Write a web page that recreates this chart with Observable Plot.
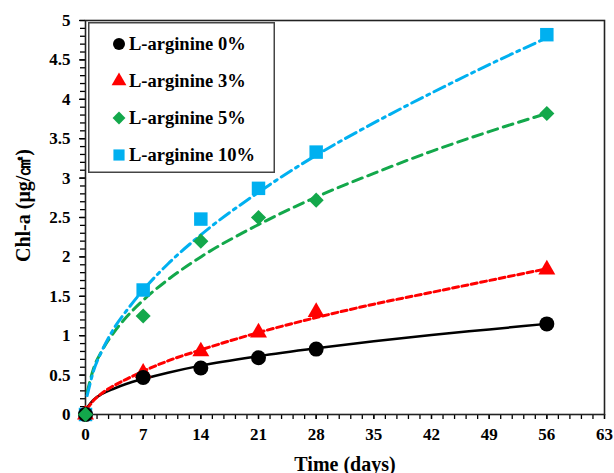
<!DOCTYPE html>
<html>
<head>
<meta charset="utf-8">
<script src="https://cdn.jsdelivr.net/npm/d3@7"></script>
<script src="https://cdn.jsdelivr.net/npm/@observablehq/plot@0.6"></script>
<style>
  html, body { margin: 0; padding: 0; background: #fff; }
  #wrap { position: relative; width: 614px; height: 473px; }
  .chart [aria-label="x-axis label"] text, .chart [aria-label="y-axis label"] text { font-size: 20px; }
  #legend { position: absolute; left: 88px; top: 22px; }
</style>
</head>
<body>
<div id="wrap"></div>
<script>
// ---- data ----
const days = [0, 7, 14, 21, 28, 56];
const seriesNames = ["L-arginine 0%", "L-arginine 3%", "L-arginine 5%", "L-arginine 10%"];
const arg0  = [0, 0.47, 0.59, 0.72, 0.83, 1.15];
const arg3  = [0, 0.53, 0.80, 1.04, 1.30, 1.84];
const arg5  = [0, 1.25, 2.20, 2.50, 2.72, 3.82];
const arg10 = [0, 1.58, 2.48, 2.87, 3.33, 4.82];

// fitted trend curves
const trendDays = [0.2, 1, 2, 3.5, 5, 7, 10, 14, 21, 28, 35, 42, 49, 56];
const trend0  = [0.09, 0.19, 0.26, 0.33, 0.39, 0.45, 0.53, 0.62, 0.74, 0.84, 0.93, 1.01, 1.08, 1.15];
const trend3  = [0.07, 0.18, 0.27, 0.37, 0.45, 0.55, 0.68, 0.82, 1.04, 1.23, 1.40, 1.55, 1.70, 1.85];
const trend5  = [0.28, 0.59, 0.81, 1.05, 1.24, 1.45, 1.71, 2.00, 2.41, 2.76, 3.06, 3.34, 3.59, 3.82];
const trend10 = [0.24, 0.56, 0.81, 1.10, 1.32, 1.58, 1.91, 2.28, 2.82, 3.29, 3.70, 4.08, 4.44, 4.78];

const xTicks = [0, 7, 14, 21, 28, 35, 42, 49, 56, 63];
const yTicks = [0, 0.5, 1, 1.5, 2, 2.5, 3, 3.5, 4, 4.5, 5];
const yTickLabels = ["0", "0.5", "1", "1.5", "2", "2.5", "3", "3.5", "4", "4.5", "5"];
const xMinor = d3.range(0, 46).map(i => +(i * 1.4).toFixed(2));
const yMinor = d3.range(0, 51).map(i => +(i * 0.1).toFixed(2));

// ---- styles ----
const colors  = ["#000000", "#ff0000", "#13a84b", "#00b0f0"];
const symbols = ["circle", "triangle", "diamond2", "square"];
const radii   = [7.5, 6.3, 6.8, 7.6];
const dashes  = [null, "6,3.5", "10,6", "12,5,3,5"];
const widths  = [2.5, 3, 3, 3];

const values = [arg0, arg3, arg5, arg10];
const trends = [trend0, trend3, trend5, trend10];

const points = [];
values.forEach((vals, s) => vals.forEach((v, i) => points.push({series: s, day: days[i], value: v})));
const trendRows = trends.map((vals, s) => vals.map((v, i) => ({series: s, day: trendDays[i], value: v})));

const dotOrder = [3, 1, 0, 2];

const chart = Plot.plot({
  width: 614,
  height: 473,
  marginLeft: 85,
  marginRight: 10,
  marginTop: 20,
  marginBottom: 59,
  className: "chart",
  style: {fontFamily: "'Liberation Serif', 'Times New Roman', serif", fontWeight: "bold", fontSize: "17px", color: "#000", background: "#fff"},
  x: {domain: [0, 63]},
  y: {domain: [0, 5]},
  marks: [
    Plot.axisX({ticks: xMinor, tickSize: 5, text: null, label: null, strokeWidth: 1.3}),
    Plot.axisX({ticks: xTicks, tickSize: 5, tickPadding: 8, strokeWidth: 1.3, tickFormat: d => String(d),
      label: "Time (days)", labelAnchor: "center", labelArrow: "none", labelOffset: 56}),
    Plot.axisY({ticks: yMinor, tickSize: 5, text: null, label: null, strokeWidth: 1.3}),
    Plot.axisY({ticks: yTicks, tickSize: 6, tickPadding: 9, strokeWidth: 1.3,
      tickFormat: d => yTickLabels[yTicks.indexOf(d)],
      label: "Chl-a (μg/㎠)", labelAnchor: "center", labelArrow: "none", labelOffset: 70}),
    Plot.frame({stroke: "#222", strokeWidth: 1.6}),
    ...trendRows.map((rows, s) => Plot.line(rows, {
      x: "day", y: "value", curve: "monotone-x",
      stroke: colors[s], strokeWidth: widths[s], strokeDasharray: dashes[s]
    })),
    ...dotOrder.map(s => Plot.dot(points.filter(p => p.series === s), {
      x: "day", y: "value", symbol: () => symbols[s], r: radii[s], fill: colors[s], stroke: "none"
    }))
  ]
});

// nudge the y-axis title upward, as in the reference
const yLab = chart.querySelector('[aria-label="y-axis label"]');
if (yLab) {
  const g = document.createElementNS("http://www.w3.org/2000/svg", "g");
  g.setAttribute("transform", "translate(0,-12)");
  yLab.parentNode.insertBefore(g, yLab);
  g.appendChild(yLab);
}

const wrap = document.getElementById("wrap");
wrap.appendChild(chart);

// ---- legend (HTML overlay) ----
const lw = 187, lh = 151;
const legend = d3.select(wrap).append("svg")
  .attr("id", "legend").attr("width", lw).attr("height", lh);
legend.append("rect").attr("x", 0.75).attr("y", 0.75).attr("width", lw - 1.5).attr("height", lh - 1.5)
  .attr("fill", "#fff").attr("stroke", "#444").attr("stroke-width", 1.5);
const symMap = {circle: d3.symbolCircle, triangle: d3.symbolTriangle, diamond2: d3.symbolDiamond2, square: d3.symbolSquare};
const legSizes = [6, 5.5, 5.8, 6.3];
seriesNames.forEach((name, s) => {
  const cy = 22 + s * 37;
  legend.append("path")
    .attr("transform", `translate(31,${cy})`)
    .attr("d", d3.symbol(symMap[symbols[s]], Math.PI * legSizes[s] * legSizes[s])())
    .attr("fill", colors[s]);
  legend.append("text")
    .attr("x", 41).attr("y", cy).attr("dy", "0.35em")
    .attr("font-family", "'Liberation Serif', 'Times New Roman', serif")
    .attr("font-weight", "bold").attr("font-size", 18.5)
    .attr("fill", "#000")
    .text(name);
});
</script>
</body>
</html>
